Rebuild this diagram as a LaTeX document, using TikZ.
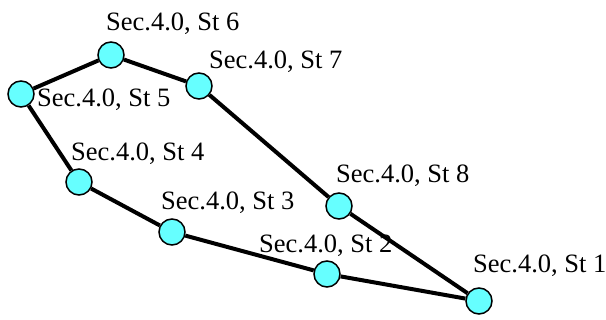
\documentclass[tikz,border=0pt]{standalone}
\usepackage{fontspec}
\setmainfont{Liberation Serif}
\usetikzlibrary{backgrounds}
\definecolor{stfill}{RGB}{102,255,255}
\tikzset{
  station/.style={circle, draw=black, line width=1.5pt, fill=stfill, minimum size=26pt, inner sep=0pt},
  stlabel/.style={anchor=base west, inner sep=0pt, font=\fontsize{26.5}{30}\selectfont},
  link/.style={line width=4pt, black}
}
\begin{document}
\begin{tikzpicture}[x=1pt,y=1pt]
  \useasboundingbox (0,0) rectangle (606,320);
  % stations
  \node[station] (s1) at (479,19) {};
  \node[station] (s2) at (327,46) {};
  \node[station] (s3) at (172,88) {};
  \node[station] (s4) at (79,138) {};
  \node[station] (s5) at (21,226) {};
  \node[station] (s6) at (111,265) {};
  \node[station] (s7) at (199,234) {};
  \node[station] (s8) at (339,114) {};
  % labels
  \node[stlabel] (l1) at (473,47) {Sec.4.0, St 1};
  \node[stlabel] (l2) at (259,67) {Sec.4.0, St 2};
  \node[stlabel] (l3) at (161,110) {Sec.4.0, St 3};
  \node[stlabel] (l4) at (71,159) {Sec.4.0, St 4};
  \node[stlabel] (l5) at (37,213) {Sec.4.0, St 5};
  \node[stlabel] (l6) at (106,289) {Sec.4.0, St 6};
  \node[stlabel] (l7) at (209,251) {Sec.4.0, St 7};
  \node[stlabel] (l8) at (336,137) {Sec.4.0, St 8};
  % closed route
  \begin{pgfonlayer}{background}
    \draw[link] (s1) -- (s2);
    \draw[link] (s2) -- (s3);
    \draw[link] (s3) -- (s4);
    \draw[link] (s4) -- (s5);
    \draw[link] (s5) -- (s6);
    \draw[link] (s6) -- (s7);
    \draw[link] (s7) -- (s8);
    \draw[link] (s8) -- (s1);
  \end{pgfonlayer}
\end{tikzpicture}
\end{document}
